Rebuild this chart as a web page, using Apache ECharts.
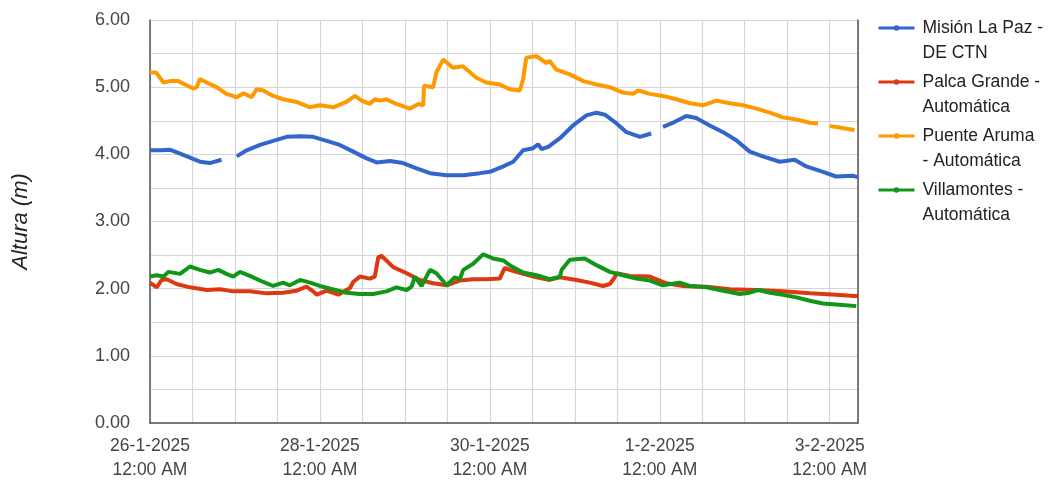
<!DOCTYPE html>
<html>
<head>
<meta charset="utf-8">
<script src="https://cdn.jsdelivr.net/npm/echarts@6/dist/echarts.min.js"></script>
<style>
html,body{margin:0;padding:0;background:#fff;}
#chart{width:1051px;height:482px;}
</style>
</head>
<body>
<div id="chart"></div>
<script>
// Hours since 26-1-2025 12:00 AM, water level (m); null marks a gap in the record
const startDate = [2025, 0, 26];
const seriesNames = ['Misión La Paz - DE CTN', 'Palca Grande - Automática', 'Puente Aruma - Automática', 'Villamontes - Automática'];
const legendLabels = ['Misión La Paz -\nDE CTN', 'Palca Grande -\nAutomática', 'Puente Aruma\n- Automática', 'Villamontes -\nAutomática'];
const yTicks = [0, 1, 2, 3, 4, 5, 6];

const misionLaPaz = [[0,4.06],[3,4.06],[5.6,4.07],[8.5,4.01],[11.3,3.95],[14.1,3.89],[16.9,3.87],[20.2,3.92],[20.6,null],[24.5,3.97],[27.3,4.06],[31.1,4.14],[34.8,4.20],[38.6,4.26],[42.4,4.27],[46.1,4.26],[49.9,4.20],[53.6,4.14],[57.4,4.04],[61.2,3.94],[64,3.88],[67.8,3.90],[71.5,3.87],[75.3,3.79],[79.1,3.72],[83.8,3.69],[88.5,3.69],[93.2,3.72],[96,3.74],[99.8,3.82],[102.6,3.89],[105.4,4.06],[108.2,4.09],[109.6,4.15],[110.6,4.08],[112.5,4.11],[115.8,4.24],[119.5,4.43],[123.3,4.58],[126.1,4.62],[128.5,4.59],[131.8,4.46],[134.6,4.33],[138.4,4.26],[141.6,4.31],[142,null],[144.9,4.41],[147.3,4.46],[151.5,4.57],[154.3,4.54],[158.1,4.43],[161.9,4.33],[165.6,4.21],[169.4,4.04],[173.1,3.97],[177.9,3.89],[182.1,3.92],[185.4,3.82],[190.1,3.74],[193.8,3.67],[198.6,3.68],[200,3.66]];

const palcaGrande = [[0,2.09],[1.9,2.02],[3.3,2.13],[4.7,2.14],[7.5,2.07],[11.3,2.02],[16,1.98],[19.8,1.99],[23.5,1.96],[28.2,1.96],[32.9,1.93],[37.6,1.94],[41.4,1.97],[44.2,2.03],[46.1,1.96],[47.1,1.91],[49.9,1.97],[53.2,1.91],[56.5,2.01],[57.4,2.10],[59.3,2.18],[62.1,2.15],[63.5,2.18],[64.5,2.47],[65.4,2.49],[68.7,2.32],[72.5,2.23],[76.2,2.13],[80,2.08],[83.8,2.05],[87.5,2.12],[91.3,2.14],[95,2.14],[98.8,2.15],[100.2,2.31],[101.6,2.28],[105.4,2.22],[109.2,2.17],[112.9,2.13],[115.8,2.17],[120.5,2.13],[124.2,2.09],[128,2.04],[129.9,2.07],[131.3,2.17],[131.8,2.23],[135.5,2.19],[141.2,2.18],[145.9,2.08],[150.6,2.04],[157.2,2.03],[163.8,1.99],[171.3,1.98],[178.8,1.96],[186.4,1.93],[193.8,1.91],[199,1.89],[200,1.89]];

const puenteAruma = [[0,5.22],[1.7,5.22],[3.8,5.07],[5.6,5.09],[8,5.09],[9.9,5.04],[12.2,4.98],[13.2,5.0],[14.1,5.12],[16,5.07],[18.8,5.0],[21.6,4.90],[24.5,4.85],[26.4,4.91],[28.7,4.85],[30.1,4.97],[32,4.95],[34.8,4.87],[37.6,4.82],[41.4,4.78],[45.2,4.70],[48,4.73],[51.8,4.70],[55.5,4.78],[57.9,4.87],[59.8,4.80],[62.1,4.75],[63.5,4.82],[65,4.80],[66.8,4.82],[69.6,4.75],[73.4,4.68],[75.8,4.75],[77.2,4.73],[77.4,5.02],[80,5.0],[80.9,5.22],[82.8,5.41],[85.6,5.29],[88.4,5.31],[92.2,5.14],[95,5.07],[98.8,5.04],[101.6,4.97],[104.5,4.95],[105.4,5.12],[106.3,5.44],[109.2,5.46],[112,5.36],[112.9,5.39],[114.8,5.26],[118.6,5.19],[122.4,5.09],[126.1,5.04],[129.9,5.0],[133.6,4.92],[136.5,4.90],[137.9,4.95],[141.2,4.90],[144.9,4.87],[148.7,4.82],[152.5,4.76],[156.2,4.73],[160,4.80],[163.8,4.76],[167.5,4.73],[171.3,4.68],[175.1,4.62],[178.8,4.55],[182.6,4.52],[186.4,4.47],[188.7,4.46],[189.5,null],[192,4.42],[194.8,4.40],[198,4.37],[199,4.36]];

const villamontes = [[0,2.18],[1.9,2.20],[3.8,2.18],[5.2,2.25],[8.5,2.22],[11.3,2.33],[14.1,2.28],[16.9,2.24],[19.3,2.28],[21.6,2.22],[23.5,2.18],[25.4,2.25],[28.2,2.19],[32,2.10],[34.8,2.04],[37.6,2.09],[39.5,2.05],[42.4,2.13],[45.2,2.09],[48,2.04],[51.8,1.99],[55.5,1.94],[59.3,1.92],[63,1.92],[66.8,1.96],[69.6,2.02],[72.5,1.98],[73.9,2.03],[74.8,2.18],[76.7,2.04],[79.1,2.28],[80.9,2.23],[83.8,2.05],[86.1,2.17],[87.5,2.14],[88.5,2.28],[91.3,2.37],[94.1,2.51],[96.9,2.45],[99.8,2.42],[101.6,2.35],[105.4,2.24],[109.2,2.20],[112.9,2.14],[115.8,2.18],[116.3,2.28],[118.6,2.43],[122.8,2.45],[126.1,2.35],[129.9,2.25],[133.6,2.20],[137.4,2.15],[141.2,2.12],[144.9,2.05],[149.6,2.09],[152.5,2.04],[157.2,2.02],[161.9,1.97],[166.6,1.92],[169.4,1.94],[171.8,1.98],[175.1,1.94],[178.8,1.91],[182.6,1.87],[186.4,1.82],[190.1,1.78],[194.8,1.76],[199.5,1.74]];

const seriesData = [misionLaPaz, palcaGrande, puenteAruma, villamontes];
const colors = ['#3366cc', '#dc3912', '#ff9900', '#109618'];

const FONT = '"Liberation Sans", Arial, sans-serif';
const chart = echarts.init(document.getElementById('chart'), null, {renderer: 'canvas'});

function xLabel(h) {
  if (Math.round(h) % 48 !== 0) return '';
  const d = new Date(Date.UTC(startDate[0], startDate[1], startDate[2]) + h * 3600000);
  return d.getUTCDate() + '-' + (d.getUTCMonth() + 1) + '-' + d.getUTCFullYear() + '\n12:00 AM';
}

chart.setOption({
  animation: false,
  color: colors,
  textStyle: {fontFamily: FONT},
  grid: {left: 150, right: 193, top: 20, bottom: 54, containLabel: false},
  legend: {
    orient: 'vertical',
    left: 877,
    top: -9.5,
    padding: 0,
    itemGap: -21,
    itemWidth: 36,
    itemHeight: 7,
    selectedMode: false,
    data: seriesNames,
    lineStyle: {width: 3},
    // leading blank line keeps the icon level with the first text line
    formatter: function (name) { return ' \n' + legendLabels[seriesNames.indexOf(name)]; },
    textStyle: {fontFamily: FONT, fontSize: 17.5, color: '#222', lineHeight: 25, padding: [0, 0, 0, 3]}
  },
  xAxis: {
    type: 'value',
    min: 0,
    max: 200,
    interval: 12,
    axisLine: {show: true, lineStyle: {color: '#555', width: 1.5}},
    axisTick: {show: false},
    splitLine: {show: true, lineStyle: {color: '#d6d6d6', width: 1.2}},
    axisLabel: {
      formatter: xLabel,
      fontFamily: FONT, fontSize: 17.5, color: '#444', lineHeight: 24, margin: 11,
      showMinLabel: true, showMaxLabel: true
    }
  },
  yAxis: [{
    type: 'value',
    min: 0,
    max: 6,
    interval: 0.5,
    name: 'Altura (m)',
    nameLocation: 'middle',
    nameRotate: 90,
    nameGap: 118,
    nameTextStyle: {fontFamily: FONT, fontSize: 22, fontStyle: 'italic', color: '#222'},
    axisLine: {show: true, lineStyle: {color: '#555', width: 1.5}},
    axisTick: {show: false},
    splitLine: {show: true, lineStyle: {color: '#d6d6d6', width: 1.2}},
    axisLabel: {
      formatter: function (v) { return yTicks.indexOf(v) >= 0 ? v.toFixed(2) : ''; },
      fontFamily: FONT, fontSize: 18, color: '#444', margin: 20
    }
  }, {
    type: 'value',
    position: 'right',
    min: 0,
    max: 6,
    interval: 0.5,
    axisLine: {show: true, lineStyle: {color: '#555', width: 1.5}},
    axisTick: {show: false},
    axisLabel: {show: false},
    splitLine: {show: false}
  }],
  series: seriesNames.map(function (name, i) {
    return {
      name: name,
      type: 'line',
      data: seriesData[i],
      showSymbol: false,
      symbol: 'circle',
      symbolSize: 6,
      connectNulls: false,
      lineStyle: {width: 4, color: colors[i]},
      itemStyle: {color: colors[i]},
      emphasis: {disabled: true},
      z: 2 + i
    };
  })
});
</script>
</body>
</html>
